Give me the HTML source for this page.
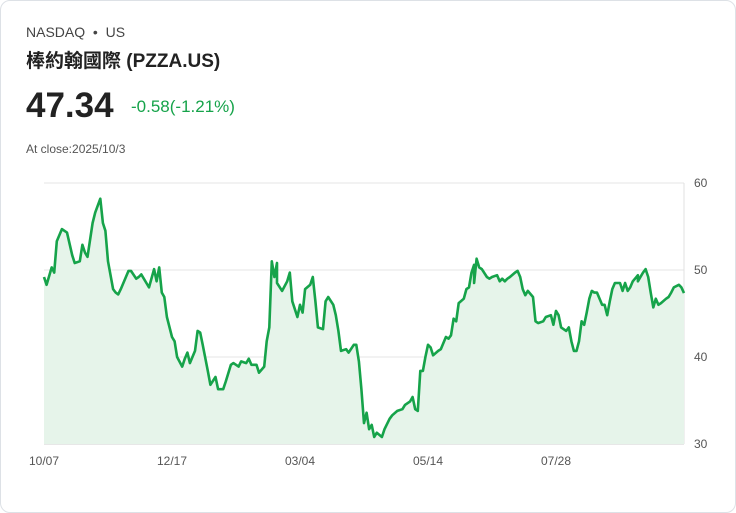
<!DOCTYPE html>
<html><head><meta charset="utf-8"><style>
body{margin:0;background:#fff;font-family:"Liberation Sans","Noto Sans CJK TC",sans-serif;}
.card{position:absolute;left:0;top:0;width:734px;height:511px;border:1px solid #dde1e6;border-radius:10px;background:#fff;}
.t{position:absolute;white-space:nowrap;}
</style></head><body>
<div class="card">
<div class="t" style="left:25px;top:23px;font-size:14px;color:#444">NASDAQ &nbsp;•&nbsp; US</div>
<div class="t" style="left:25px;top:45px;font-size:19px;font-weight:bold;color:#222">棒約翰國際 (PZZA.US)</div>
<div class="t" style="left:25px;top:85px;font-size:35px;font-weight:bold;color:#222">47.34</div>
<div class="t" style="left:130px;top:96px;font-size:17px;color:#16a34a">-0.58(-1.21%)</div>
<div class="t" style="left:25px;top:141px;font-size:12px;color:#555">At close:2025/10/3</div>
<svg id="chart" width="736" height="513" style="position:absolute;left:-1px;top:-1px"></svg>
</div>
<script>
const days=[0,1,3,4,5,7,9,11,12,14,15,16,17,19,20,22,23,24,25,27,28,29,30,33,34,36,37,38,40,41,43,44,45,46,47,48,50,51,52,54,55,56,57,59,60,61,62,64,65,67,68,70,71,73,74,76,77,79,80,81,83,84,86,87,88,89,90,91,91,93,95,96,97,99,100,101,102,104,105,106,107,109,110,111,113,114,115,116,118,119,121,122,123,124,125,126,127,128,129,130,132,133,135,136,138,140,141,143,144,145,146,147,148,149,150,151,152,154,155,157,158,159,160,161,162,164,165,166,167,168,168,169,170,171,173,174,175,177,178,179,180,181,182,184,185,186,187,188,189,191,192,193,195,196,198,199,200,201,202,204,205,206,207,208,209,210,211,212,213,214,215,216,218,219,220,221,222,223,225,226,227,228,229,230,232,232,234,235,236,237,238,239,240,241,243,244,245,246,248,249,250];
const values=[49.2,48.3,50.3,49.7,53.3,54.7,54.3,51.7,50.8,51.0,52.9,52.0,51.5,55.4,56.6,58.2,55.4,54.5,51.0,47.8,47.4,47.2,47.8,49.9,49.9,49.0,49.2,49.5,48.5,48.0,50.1,48.7,50.3,47.4,46.9,44.6,42.3,41.8,40.0,38.9,39.8,40.5,39.3,40.7,43.0,42.8,41.4,38.4,36.8,37.7,36.3,36.3,37.2,39.1,39.3,38.9,39.5,39.3,39.8,39.1,39.1,38.2,38.9,41.8,43.4,51.0,49.2,50.8,48.5,47.6,48.7,49.7,46.4,44.6,46.0,45.1,47.8,48.3,49.2,46.4,43.4,43.2,46.4,46.9,46.0,44.8,43.0,40.7,40.9,40.5,41.4,41.4,39.5,36.3,32.4,33.6,31.7,32.2,30.8,31.3,30.8,31.7,32.9,33.3,33.8,34.0,34.5,34.9,35.4,34.0,33.8,38.4,38.4,40.0,41.4,41.1,40.2,40.7,40.9,42.3,42.1,42.5,44.4,44.1,46.2,46.7,47.8,48.0,49.7,50.6,48.5,51.3,50.3,50.1,49.2,49.0,49.2,49.4,48.7,49.0,48.7,49.0,49.2,49.7,49.9,49.2,47.8,47.1,47.6,46.9,44.1,43.9,44.1,44.6,44.8,43.7,45.3,44.8,43.4,43.0,43.4,41.8,40.7,40.7,41.8,44.1,43.7,45.1,46.7,47.6,47.4,47.4,46.0,46.0,44.8,46.4,47.8,48.5,48.5,47.6,48.5,47.6,48.0,48.7,49.4,48.7,49.7,50.1,49.2,47.4,45.7,46.7,46.0,46.2,46.7,46.9,47.4,48.0,48.3,48.0,47.34];
const yTicks=[30,40,50,60];
const xLabels=["10/07","12/17","03/04","05/14","07/28"];
const xLabelDays=[0,50,100,150,200];
const totalDays=250;
const svg=document.getElementById('chart');const NS='http://www.w3.org/2000/svg';
const L=44,R=684,T=183,B=444,ymin=30,ymax=60;
const xs=d=>L+(R-L)*d/totalDays;
const ys=v=>B-(v-ymin)/(ymax-ymin)*(B-T);
function mk(t,a){const e=document.createElementNS(NS,t);for(const k in a)e.setAttribute(k,a[k]);svg.appendChild(e);return e;}
yTicks.forEach(v=>{
 const g=mk('line',{x1:L,x2:R,y1:ys(v),y2:ys(v),stroke:v==30?'#cfcfcf':'#e4e4e4','stroke-width':1});
 
 
 const t=mk('text',{x:R+10,y:ys(v)+4,'font-size':12,fill:'#555','font-family':'Liberation Sans,sans-serif'});
 t.textContent=v;
 
 
});
const ax=mk('line',{x1:R,x2:R,y1:T,y2:B,stroke:'#e0e0e0'});


xLabels.forEach((s,k)=>{
 const t=mk('text',{x:xs(xLabelDays[k]),y:465,'font-size':12,fill:'#555','text-anchor':'middle','font-family':'Liberation Sans,sans-serif'});
 t.textContent=s;
 
 
});
const n=Math.min(days.length,values.length);
let d='';for(let i=0;i<n;i++){d+=(i?'L':'M')+xs(days[i]).toFixed(1)+','+ys(values[i]).toFixed(1);}
const area=mk('path',{d:d+'L'+xs(days[n-1])+','+B+'L'+L+','+B+'Z',fill:'#e6f4ea'});


const line=mk('path',{d:d,fill:'none',stroke:'#16a34a','stroke-width':2.6,'stroke-linejoin':'round'});


</script>
</body></html>
